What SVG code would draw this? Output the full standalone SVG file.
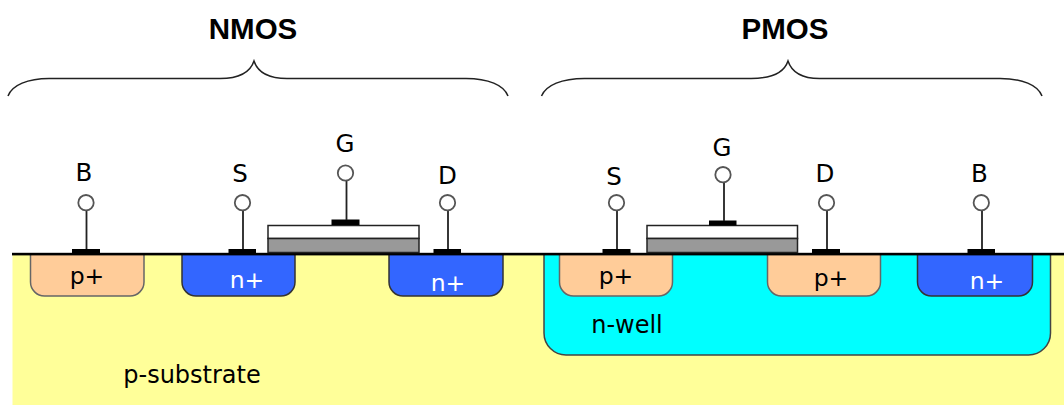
<svg xmlns="http://www.w3.org/2000/svg" width="1064" height="405" viewBox="0 0 1064 405">
<style>
text{font-family:"DejaVu Sans","Liberation Sans",sans-serif;fill:#000}
.t{font-size:24.5px;text-anchor:middle}
.r{font-size:24px;text-anchor:middle}
.d{font-size:23.5px;text-anchor:middle}
.w{fill:#fff}
.h{font-family:"Liberation Sans",Arial,sans-serif;font-size:29.5px;font-weight:bold;text-anchor:middle}
.p{fill:#ffcc99;stroke:#666;stroke-width:1.5}
.n{fill:#3366ff;stroke:#333;stroke-width:1.5}
.lead{stroke:#222;stroke-width:1.8;fill:none}
.pin{fill:#fff;stroke:#555;stroke-width:1.8}
.brace{fill:none;stroke:#222;stroke-width:1.5}
.pad{fill:#000}
.ox{fill:#fff;stroke:#222;stroke-width:1.5}
.poly{fill:#999;stroke:#222;stroke-width:1.5}
</style>
<rect width="1064" height="405" fill="#fff"/>
<g id="substrate"><rect x="12.500" y="254" width="1052" height="151" fill="#ffff99"/><text x="192" y="383" class="r">p-substrate</text></g>
<g id="nwell"><path d="M544 254V333A22 22 0 0 0 566 355H1028.500A22 22 0 0 0 1050.500 333V254Z" fill="#00ffff" stroke="#444" stroke-width="1.5"/><text x="627" y="332.500" class="r">n-well</text></g>
<g id="nmos-b-diff"><path class="p" d="M30.500 254V282A14 14 0 0 0 44.500 296H130A14 14 0 0 0 144 282V254Z"/><text x="87" y="284" class="d">p+</text></g>
<g id="nmos-s-diff"><path class="n" d="M182 254V282A14 14 0 0 0 196 296H281A14 14 0 0 0 295 282V254Z"/><text x="247" y="287.500" class="d w">n+</text></g>
<g id="nmos-d-diff"><path class="n" d="M389 254V282A14 14 0 0 0 403 296H489A14 14 0 0 0 503 282V254Z"/><text x="448" y="290.500" class="d w">n+</text></g>
<g id="pmos-s-diff"><path class="p" d="M559.500 254V282A14 14 0 0 0 573.500 296H658.500A14 14 0 0 0 672.500 282V254Z"/><text x="616" y="283.500" class="d">p+</text></g>
<g id="pmos-d-diff"><path class="p" d="M767.500 254V282A14 14 0 0 0 781.500 296H866.500A14 14 0 0 0 880.500 282V254Z"/><text x="831" y="286" class="d">p+</text></g>
<g id="pmos-b-diff"><path class="n" d="M917.500 254V282A14 14 0 0 0 931.500 296H1018.500A14 14 0 0 0 1032.500 282V254Z"/><text x="987" y="288.500" class="d w">n+</text></g>
<g id="surface"><rect x="12" y="252.800" width="1052" height="2.600" fill="#000"/></g>
<g id="nmos-gate"><rect class="ox" x="268" y="225.500" width="151" height="13"/><rect class="poly" x="268" y="238.500" width="151" height="14"/><rect class="pad" x="331.500" y="219.500" width="28" height="5.500"/></g>
<g id="pmos-gate"><rect class="ox" x="647" y="225.500" width="150.500" height="13"/><rect class="poly" x="647" y="238.500" width="150.500" height="14"/><rect class="pad" x="709" y="220.500" width="27.500" height="5"/></g>
<g id="connectors">
<path class="lead" d="M86.500 210V249M243 210V249M346.500 180V220M448 210V249M617 210V249M724 182V221M827 210V249M982 210V249"/>
<path class="brace" d="M8 96C12 85 28 78.500 49 78.500H220C238 78.500 250 73 254 61C258 73 270 78.500 287 78.500H466C488 78.500 504 85 508 96"/>
<path class="brace" d="M541.500 96C546 85 562 78.500 584.500 78.500H751C771 78.500 784 73 788 61C792 73 804 78.500 819.500 78.500H1000C1022 78.500 1038 85 1042 96"/>
</g>
<g id="nmos-b"><rect class="pad" x="72" y="249" width="28" height="4.500"/><circle class="pin" cx="86" cy="202.700" r="7.700"/><text x="84" y="181" class="t">B</text></g>
<g id="nmos-s"><rect class="pad" x="228.500" y="249" width="27.500" height="4.500"/><circle class="pin" cx="242.500" cy="202.700" r="7.700"/><text x="240" y="182" class="t">S</text></g>
<g id="nmos-g"><circle class="pin" cx="345.500" cy="173" r="7.700"/><text x="345" y="152" class="t">G</text></g>
<g id="nmos-d"><rect class="pad" x="433.500" y="249" width="27.500" height="4.500"/><circle class="pin" cx="447.500" cy="202.700" r="7.700"/><text x="447.500" y="184" class="t">D</text></g>
<g id="pmos-s"><rect class="pad" x="602.500" y="249" width="28" height="4.500"/><circle class="pin" cx="616.500" cy="202.700" r="7.700"/><text x="614" y="185" class="t">S</text></g>
<g id="pmos-g"><circle class="pin" cx="723" cy="174.700" r="7.700"/><text x="722" y="155.500" class="t">G</text></g>
<g id="pmos-d"><rect class="pad" x="812" y="249" width="28" height="4.500"/><circle class="pin" cx="826.500" cy="202.700" r="7.700"/><text x="825" y="182" class="t">D</text></g>
<g id="pmos-b"><rect class="pad" x="967.500" y="249" width="27.500" height="4.500"/><circle class="pin" cx="981.300" cy="202.700" r="7.700"/><text x="979.300" y="182.300" class="t">B</text></g>
<g id="nmos-title"><text x="253" y="38.500" class="h">NMOS</text></g>
<g id="pmos-title"><text x="785" y="38.500" class="h">PMOS</text></g>
</svg>
